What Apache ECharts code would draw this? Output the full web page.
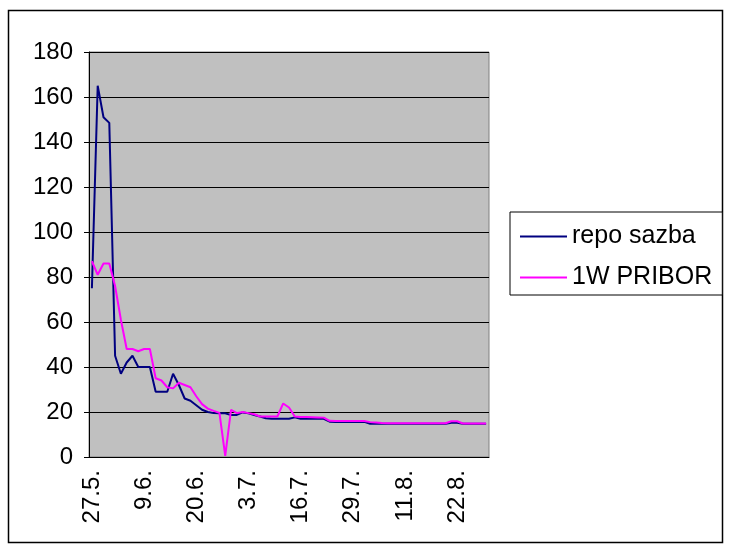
<!DOCTYPE html>
<html><head><meta charset="utf-8">
<script src="https://cdn.jsdelivr.net/npm/echarts@6/dist/echarts.min.js"></script>
<style>html,body{margin:0;padding:0;background:#fff}#c{width:730px;height:553px}</style>
</head><body><div id="c"></div>
<script>
const dates = ['27.5.','28.5.','29.5.','30.5.','2.6.','3.6.','4.6.','5.6.','6.6.','9.6.','10.6.','11.6.','12.6.','13.6.','16.6.','17.6.','18.6.','19.6.','20.6.','23.6.','24.6.','25.6.','26.6.','27.6.','30.6.','1.7.','2.7.','3.7.','4.7.','7.7.','8.7.','9.7.','10.7.','11.7.','14.7.','15.7.','16.7.','17.7.','18.7.','21.7.','22.7.','23.7.','24.7.','25.7.','28.7.','29.7.','30.7.','31.7.','1.8.','4.8.','5.8.','6.8.','7.8.','8.8.','11.8.','12.8.','13.8.','14.8.','15.8.','18.8.','19.8.','20.8.','21.8.','22.8.','25.8.','26.8.','27.8.','28.8.','29.8.'];
const repo = [75,165,151,148.5,45,37,42,45,40,40,40,
  29,29,29,37,32,26,25,23,21,20,
  19.5,19.4,19.4,18.7,18.7,19.8,19.4,18.7,18,17.2,
  17,17,17,17,17.6,17,17,17,17,17,
  15.7,15.6,15.6,15.6,15.6,15.6,15.6,
  14.8,14.8,14.8,14.8,14.8,14.8,14.8,14.8,14.8,14.8,14.8,14.8,14.8,14.8,
  15.2,15.2,
  14.8,14.8,14.8,14.8,14.8];
const pribor = [87,81,86,86,76,61,48,48,47,48,48,
  35,34,31,30.5,33,32,31,27,23.5,21.5,
  20.5,19.6,0.5,21,19.5,20,19.5,19,18,18,
  18,18,23.8,22,18,17.8,17.8,17.7,17.6,17.5,
  16.1,16,16,16,16,16,16,
  15.5,15.3,15.1,
  15,15,15,15,15,15,15,15,15,15,15,
  15.9,15.9,
  14.9,14.9,14.9,14.9,14.9];
const seriesNames = ['repo sazba','1W PRIBOR'];
const yTicks = {min:0, max:180, step:20};

const FONT = "'Liberation Sans', Arial, sans-serif";
const chart = echarts.init(document.getElementById('c'), null, {renderer:'canvas'});
chart.setOption({
  animation:false,
  backgroundColor:'#fff',
  textStyle:{fontFamily:FONT},
  graphic:[{type:'rect', shape:{x:8.5,y:10.5,width:714,height:532}, style:{fill:'none',stroke:'#000',lineWidth:1.5}, z:-1}],
  grid:{left:89, right:241, top:52, bottom:96, show:true, backgroundColor:'#C0C0C0', borderColor:'#808080', borderWidth:1},
  legend:{
    orient:'vertical', left:510, top:212,
    padding:[12,10,5,10], itemGap:16, itemWidth:47, itemHeight:2, icon:'rect',
    borderColor:'#000', borderWidth:1, backgroundColor:'#fff',
    textStyle:{fontFamily:FONT, fontSize:25, color:'#000'},
    data:seriesNames
  },
  xAxis:{
    type:'category', data:dates, boundaryGap:true,
    axisLine:{lineStyle:{color:'#000',width:1}},
    axisTick:{interval:0, length:6, lineStyle:{color:'#000'}},
    axisLabel:{interval:8, rotate:90, margin:13, fontFamily:FONT, fontSize:24, color:'#000'},
    splitLine:{show:false}
  },
  yAxis:{
    type:'value', min:yTicks.min, max:yTicks.max, interval:yTicks.step,
    axisLine:{show:true, lineStyle:{color:'#000',width:1}},
    axisTick:{show:true, length:5, lineStyle:{color:'#000'}},
    axisLabel:{margin:16, fontFamily:FONT, fontSize:24, color:'#000'},
    splitLine:{lineStyle:{color:'#000',width:1}}
  },
  series:[
    {name:seriesNames[0], type:'line', data:repo, symbol:'none', lineStyle:{color:'#000080',width:2}, itemStyle:{color:'#000080'}},
    {name:seriesNames[1], type:'line', data:pribor, symbol:'none', lineStyle:{color:'#FF00FF',width:2}, itemStyle:{color:'#FF00FF'}}
  ]
});
</script></body></html>
